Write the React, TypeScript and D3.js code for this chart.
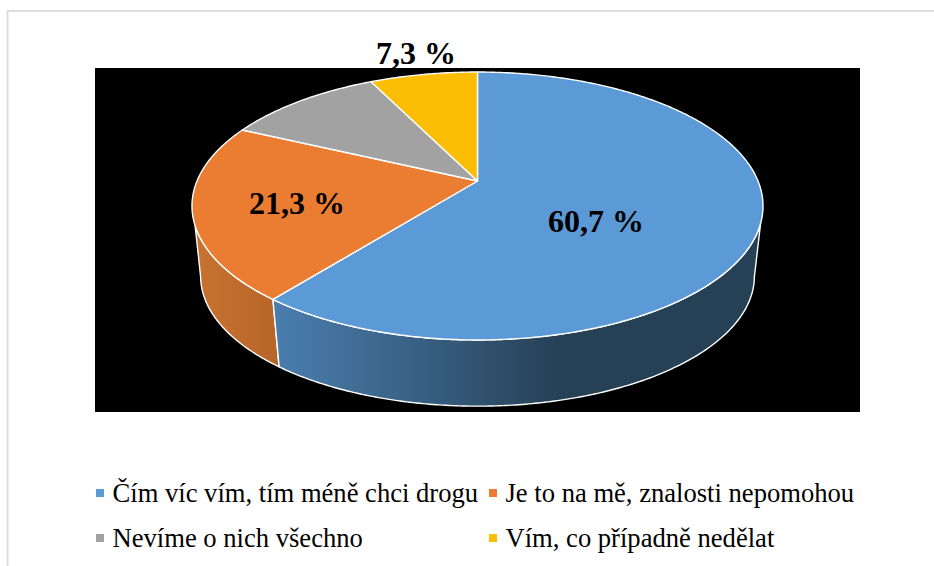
import React from "react";
import * as d3 from "d3";

const categories = [
  "Čím víc vím, tím méně chci drogu",
  "Je to na mě, znalosti nepomohou",
  "Nevíme o nich všechno",
  "Vím, co případně nedělat",
];
const values = [60.7, 21.3, 10.7, 7.3];
const valueLabels = ["60,7 %", "21,3 %", "", "7,3 %"];
const colors = ["#5B9AD6", "#EB7D32", "#A2A2A2", "#FBBE05"];

const W = 934;
const H = 566;
const FONT = "'Liberation Serif', 'Times New Roman', serif";

// Perspective projection of the pie's disc: top face and (smaller) bottom face
const K = 0.1866;
const CX = 477.5;
const top = { cy: 181, a: 129.3, b: 280.5 };
const bottom = { cy: 252, a: 125.4, b: 272 };

type Face = { cy: number; a: number; b: number };
const project = (f: Face, ang: number, r = 1): [number, number] => {
  const u = r * Math.sin(ang);
  const v = r * Math.cos(ang);
  const w = 1 + K * v;
  return [CX + (f.b * u) / w, f.cy - (f.a * v) / w];
};

const samples = (a0: number, a1: number) => {
  const n = Math.max(2, Math.ceil(Math.abs(a1 - a0) / 0.01));
  return d3.range(n + 1).map((i) => a0 + ((a1 - a0) * i) / n);
};

const line = d3.line<[number, number]>().x((d) => d[0]).y((d) => d[1]);

const rad = (deg: number) => (deg * Math.PI) / 180;

const arcs = d3.pie<number>().sort(null).value((d) => d)(values);

const wedgePath = (a0: number, a1: number) =>
  line([[CX, top.cy], ...samples(a0, a1).map((a) => project(top, a))])! + "Z";

const sidePath = (a0: number, a1: number, b0: number, b1: number) =>
  line([
    ...samples(a0, a1).map((a) => project(top, a)),
    ...samples(b1, b0).map((a) => project(bottom, a)),
  ])! + "Z";

const labelPos: [number, number][] = [
  [596, 232],
  [297, 214],
  [0, 0],
  [416, 64],
];

const legendPos: [number, number][] = [
  [96, 502],
  [489, 502],
  [96, 547],
  [489, 547],
];

export default function App() {
  const blue = arcs[0];
  const orange = arcs[1];
  return (
    <svg
      width={W}
      height={H}
      viewBox={`0 0 ${W} ${H}`}
      style={{ position: "absolute", left: 0, top: 0, background: "#fff" }}
    >
      <defs>
        <linearGradient id="blueSide" gradientUnits="userSpaceOnUse" x1={278} x2={560} y1={0} y2={0}>
          <stop offset="0" stopColor="#4A7DAC" />
          <stop offset="0.5" stopColor="#386083" />
          <stop offset="1" stopColor="#264056" />
        </linearGradient>
        <linearGradient id="orangeSide" gradientUnits="userSpaceOnUse" x1={197} x2={278} y1={0} y2={0}>
          <stop offset="0" stopColor="#C7722F" />
          <stop offset="1" stopColor="#B8652A" />
        </linearGradient>
      </defs>
      <path d="M7.5 566V11H934" fill="none" stroke="#DDDDDD" strokeWidth={2} />
      <rect x={95} y={68} width={765} height={344} fill="#000" />

      <path
        d={sidePath(orange.startAngle, rad(251), blue.endAngle, rad(259))}
        fill="url(#orangeSide)"
        stroke="#fff"
        strokeWidth={1.4}
        strokeLinejoin="round"
      />
      <path
        d={sidePath(rad(108), blue.endAngle, rad(101), blue.endAngle)}
        fill="url(#blueSide)"
        stroke="#fff"
        strokeWidth={1.4}
        strokeLinejoin="round"
      />
      {arcs.map((d, i) => (
        <path
          key={i}
          d={wedgePath(d.startAngle, d.endAngle)}
          fill={colors[i]}
          stroke="#fff"
          strokeWidth={1.4}
          strokeLinejoin="round"
        />
      ))}
      {valueLabels.map((t, i) =>
        t ? (
          <text
            key={i}
            x={labelPos[i][0]}
            y={labelPos[i][1]}
            textAnchor="middle"
            fontFamily={FONT}
            fontWeight="bold"
            fontSize={32}
            fill="#000"
          >
            {t}
          </text>
        ) : null
      )}
      {categories.map((c, i) => (
        <g key={i}>
          <rect x={legendPos[i][0]} y={legendPos[i][1] - 13} width={8} height={8} fill={colors[i]} />
          <text x={legendPos[i][0] + 16.5} y={legendPos[i][1]} fontFamily={FONT} fontSize={26.6} fill="#000">
            {c}
          </text>
        </g>
      ))}
    </svg>
  );
}
